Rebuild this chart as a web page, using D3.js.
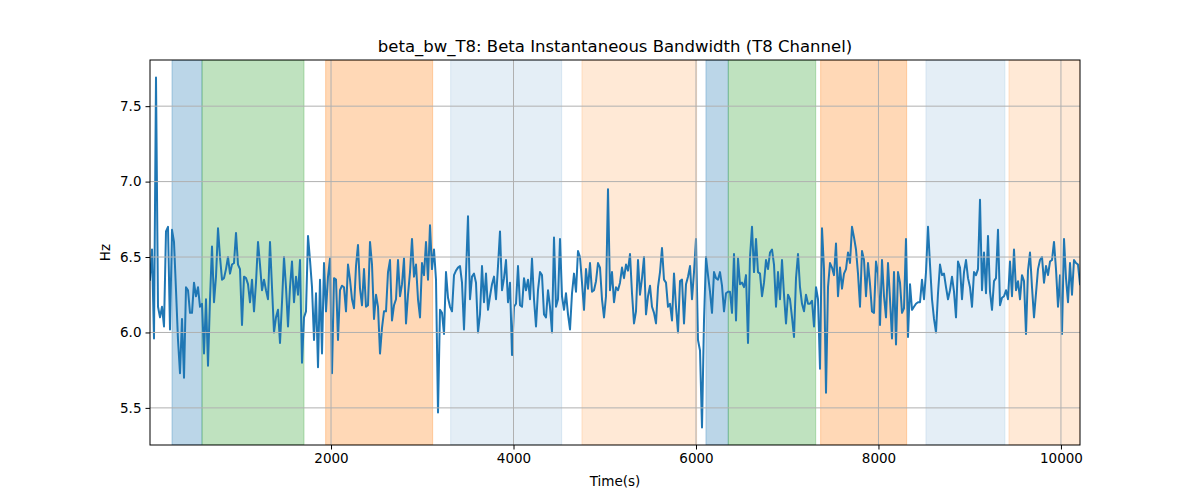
<!DOCTYPE html>
<html>
<head>
<meta charset="utf-8">
<script src="https://cdn.jsdelivr.net/npm/d3@7"></script>
<style>
  html, body { margin: 0; padding: 0; background: #fff; }
  svg { display: block; font-family: "DejaVu Sans", sans-serif; }
</style>
</head>
<body>
<svg id="chart" width="1200" height="500"></svg>
<script>
// ---- data ----
const titleText = "beta_bw_T8: Beta Instantaneous Bandwidth (T8 Channel)";
const xLabel = "Time(s)";
const yLabel = "Hz";

// sample times: first sample and spacing (s)
const timeStart = 16;
const timeStep = 21.92;

// instantaneous bandwidth values (Hz)
const bandwidth = [
  6.35,6.55,5.96,7.69,6.17,6.10,6.17,6.04,6.67,6.70,6.02,6.68,6.60,6.28,5.95,5.73,6.09,5.70,6.30,6.28,
  6.13,6.13,6.33,6.24,6.30,6.17,6.19,5.86,6.22,5.78,6.22,6.57,6.20,6.37,6.69,6.50,6.35,6.36,6.42,6.50,
  6.39,6.45,6.46,6.66,6.45,6.42,6.05,6.37,6.36,6.32,6.20,6.35,6.14,6.33,6.60,6.45,6.28,6.35,6.28,6.22,
  6.60,6.30,6.00,6.10,6.15,5.93,6.20,6.50,6.30,6.04,6.30,6.47,6.20,6.37,6.25,6.48,5.80,6.10,
  6.14,6.64,6.48,6.30,5.95,6.26,5.77,6.35,5.86,6.46,6.14,6.37,6.49,5.73,6.36,6.35,5.95,6.28,6.31,6.30,
  6.14,6.45,6.35,6.22,6.16,6.44,6.58,6.29,6.18,6.42,6.17,6.18,6.60,6.45,6.09,6.25,6.17,5.86,6.03,6.14,
  6.14,6.40,6.48,6.08,6.18,6.22,6.48,6.24,6.32,6.49,6.06,6.25,6.40,6.62,6.37,6.45,6.22,6.10,6.46,6.38,
  6.60,6.35,6.71,6.42,6.55,6.35,5.47,6.15,6.13,5.99,6.40,6.23,6.17,6.14,6.38,6.41,6.43,6.44,
  6.33,6.02,6.39,6.77,6.22,6.37,6.39,6.33,6.00,6.12,6.44,6.20,6.39,6.15,6.24,6.32,6.37,6.22,6.44,6.67,
  6.28,6.36,6.48,6.20,6.33,5.85,6.17,6.19,6.44,6.18,6.17,6.36,6.28,6.35,6.22,6.49,6.22,6.04,6.28,6.40,
  6.38,6.12,6.10,6.28,6.17,6.00,6.63,6.17,6.22,6.62,6.24,6.15,6.26,6.12,6.02,6.26,6.39,6.27,6.54,6.50,
  6.33,6.15,6.42,6.29,6.46,6.27,6.28,6.34,6.46,6.43,6.22,6.10,6.24,6.95,6.28,6.40,6.20,
  6.30,6.28,6.33,6.43,6.36,6.45,6.41,6.52,6.26,6.06,6.14,6.48,6.25,6.36,6.50,6.12,6.24,6.31,6.17,6.13,
  6.06,6.30,6.40,6.56,6.35,6.33,6.17,6.19,6.08,6.39,6.17,6.00,6.34,6.35,6.06,6.32,6.37,6.44,6.22,6.40,
  6.62,5.95,5.88,5.37,6.08,6.50,6.38,6.27,6.13,6.40,6.36,6.35,6.40,6.31,6.14,6.26,6.27,6.27,6.13,6.52,
  6.08,6.49,6.32,6.33,6.30,6.38,5.93,6.50,6.70,6.40,6.62,6.40,6.39,6.24,6.33,6.48,6.42,6.53,
  6.55,6.45,6.17,6.40,6.22,6.48,6.25,6.06,6.25,6.22,6.10,5.97,6.36,6.52,6.30,6.19,6.14,6.25,6.19,6.19,
  6.21,6.04,6.30,6.22,5.76,6.69,6.42,5.60,6.30,6.46,6.43,6.38,6.59,6.24,6.43,6.29,6.39,6.42,6.53,6.46,
  6.70,6.63,6.55,6.39,6.17,6.54,6.48,6.24,6.46,6.32,6.14,6.13,6.47,6.39,6.05,6.48,6.24,6.10,6.46,6.22,
  5.96,6.40,5.92,6.40,6.33,6.13,6.16,6.62,5.97,6.32,6.15,6.17,6.19,6.20,6.20,6.35,6.22,
  6.40,6.70,6.45,6.22,6.09,6.00,6.26,6.45,6.38,6.39,6.30,6.22,6.28,6.37,6.27,6.10,6.47,6.43,6.22,6.40,
  6.48,6.36,6.30,6.17,6.40,6.38,6.42,6.88,6.28,6.53,6.26,6.64,6.27,6.15,6.34,6.36,6.68,6.18,6.23,6.24,
  6.28,6.22,6.47,6.24,6.55,6.28,6.34,6.22,6.38,6.34,5.99,6.41,6.53,6.30,6.10,6.26,6.42,6.48,6.50,6.33,
  6.44,6.38,6.47,6.48,6.60,6.42,6.17,6.38,5.99,6.62,6.36,6.20,6.46,6.25,6.48,6.46,6.45,6.32
];

// shaded segments (start, end in s) and their colours/opacities
const bandStarts  = [257, 586, 1941, 3311, 4750, 6109, 6354, 7366, 8520, 9430];
const bandEnds    = [586, 1704, 3114, 4528, 6007, 6354, 7312, 8309, 9386, 10208];
const bandColors  = ["#1f77b4","#2ca02c","#ff7f0e","#1f77b4","#ff7f0e","#1f77b4","#2ca02c","#ff7f0e","#1f77b4","#ff7f0e"];
const bandAlphas  = [0.3, 0.3, 0.3, 0.12, 0.17, 0.3, 0.3, 0.3, 0.12, 0.17];

const xTicks = [2000, 4000, 6000, 8000, 10000];
const yTicks = [5.5, 6.0, 6.5, 7.0, 7.5];

// ---- layout ----
const W = 1200, H = 500;
const margin = { left: 150, right: 120, top: 60, bottom: 55 };
const x0 = margin.left, x1 = W - margin.right;   // 150 .. 1080
const y0 = margin.top, y1 = H - margin.bottom;   // 60 .. 445

const times = bandwidth.map((_, i) => timeStart + i * timeStep);
const points = times.map((t, i) => ({ t, v: bandwidth[i] }));

const x = d3.scaleLinear().domain(d3.extent(times)).range([x0, x1]);
const [vmin, vmax] = d3.extent(bandwidth);
const pad = (vmax - vmin) * 0.05;
const y = d3.scaleLinear().domain([vmin - pad, vmax + pad]).range([y1, y0]);

const svg = d3.select("#chart");

const clip = svg.append("defs").append("clipPath").attr("id", "plotclip")
  .append("rect").attr("x", x0).attr("y", y0).attr("width", x1 - x0).attr("height", y1 - y0);

const plot = svg.append("g").attr("clip-path", "url(#plotclip)");

// bands
const bands = bandStarts.map((s, i) => ({ s, e: bandEnds[i], c: bandColors[i], a: bandAlphas[i] }));
plot.selectAll("rect.band").data(bands).enter().append("rect")
  .attr("class", "band")
  .attr("x", d => x(d.s))
  .attr("width", d => x(d.e) - x(d.s))
  .attr("y", y0)
  .attr("height", y1 - y0)
  .attr("fill", d => d.c)
  .attr("fill-opacity", d => d.a)
  .attr("stroke", d => d.c)
  .attr("stroke-opacity", d => d.a)
  .attr("stroke-width", 1);

// grid
const grid = svg.append("g");
grid.selectAll("line.gx").data(xTicks).enter().append("line")
  .attr("x1", d => x(d)).attr("x2", d => x(d))
  .attr("y1", y0).attr("y2", y1)
  .attr("stroke", "#b0b0b0").attr("stroke-width", 1);
grid.selectAll("line.gy").data(yTicks).enter().append("line")
  .attr("x1", x0).attr("x2", x1)
  .attr("y1", d => y(d)).attr("y2", d => y(d))
  .attr("stroke", "#b0b0b0").attr("stroke-width", 1);

// line
const line = d3.line().x(d => x(d.t)).y(d => y(d.v));
plot.append("path").datum(points)
  .attr("d", line)
  .attr("fill", "none")
  .attr("stroke", "#1f77b4")
  .attr("stroke-width", 2)
  .attr("stroke-linejoin", "round")
  .attr("stroke-linecap", "square");

// axes
const xAxis = d3.axisBottom(x).tickValues(xTicks).tickFormat(d3.format("d")).tickSizeOuter(0).tickSize(4.5).tickPadding(4);
const yAxis = d3.axisLeft(y).tickValues(yTicks).tickFormat(d3.format(".1f")).tickSizeOuter(0).tickSize(4.5).tickPadding(4);

const gx = svg.append("g").attr("transform", `translate(0,${y1})`).call(xAxis);
const gy = svg.append("g").attr("transform", `translate(${x0},0)`).call(yAxis);
[gx, gy].forEach(g => {
  g.select(".domain").remove();
  g.selectAll(".tick line").attr("stroke", "#000").attr("stroke-width", 1);
  g.selectAll(".tick text").attr("fill", "#000").style("font-size", "13.5px").style("font-family", "DejaVu Sans, sans-serif");
});

// frame
svg.append("rect").attr("x", x0).attr("y", y0).attr("width", x1 - x0).attr("height", y1 - y0)
  .attr("fill", "none").attr("stroke", "#000").attr("stroke-width", 1);

// labels
svg.append("text").attr("x", (x0 + x1) / 2).attr("y", 52)
  .attr("text-anchor", "middle").style("font-size", "16.5px").attr("fill", "#000").text(titleText);
svg.append("text").attr("x", (x0 + x1) / 2).attr("y", 486)
  .attr("text-anchor", "middle").style("font-size", "13.5px").attr("fill", "#000").text(xLabel);
svg.append("text").attr("transform", `translate(110,${(y0 + y1) / 2}) rotate(-90)`)
  .attr("text-anchor", "middle").style("font-size", "13.5px").attr("fill", "#000").text(yLabel);
</script>
</body>
</html>
